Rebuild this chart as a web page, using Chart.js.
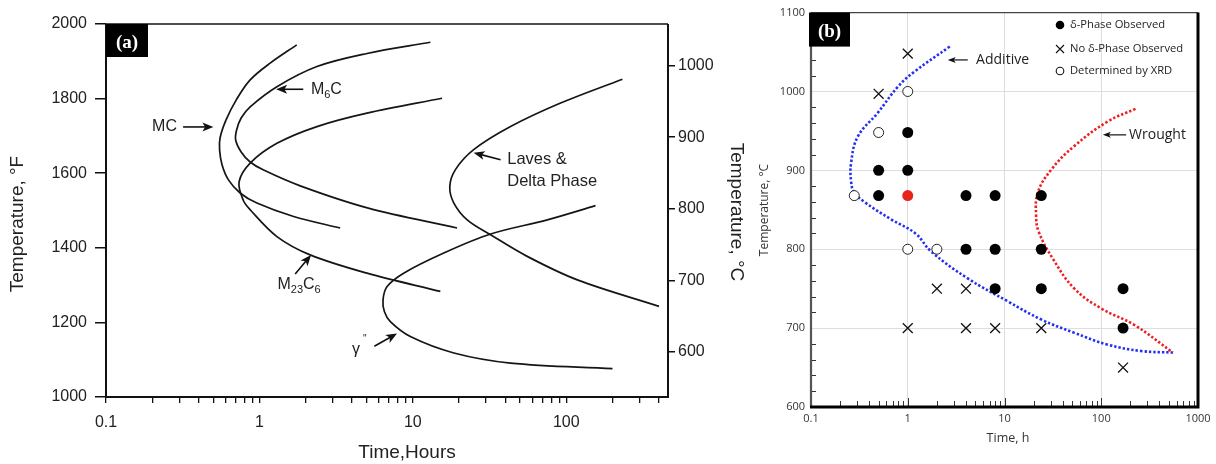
<!DOCTYPE html>
<html><head><meta charset="utf-8">
<script src="https://cdn.jsdelivr.net/npm/chart.js@4.4.1/dist/chart.umd.min.js"></script>
<style>
html,body{margin:0;padding:0;background:#fff;width:1216px;height:464px;overflow:hidden}
canvas{position:absolute;top:0}
#ca{left:0}
#cb{left:740px}
</style></head><body>
<canvas id="ca" width="745" height="464"></canvas>
<canvas id="cb" width="476" height="464"></canvas>
<script>
// ---------------- Panel (a): time (h) vs temperature (°F) ----------------
const mcTime    = [1.75, 1.174, 0.870, 0.705, 0.606, 0.554, 0.550, 0.571, 0.628, 0.748, 0.962, 1.67, 3.36];
const mcTemp    = [1944, 1895, 1850, 1796, 1743, 1695, 1662, 1622, 1582, 1547, 1520, 1484, 1453];
const m6cTime   = [13.0, 5.02, 2.37, 1.30, 0.87, 0.76, 0.71, 0.70, 0.76, 0.87, 1.057, 1.844, 5.05, 19.4];
const m6cTemp   = [1951, 1921, 1886, 1832, 1778, 1748, 1716, 1689, 1657, 1630, 1609, 1566, 1507, 1453];
const m23Time   = [15.5, 5.02, 2.37, 1.30, 0.87, 0.737, 0.783, 0.87, 1.30, 2.14, 5.02, 15.1];
const m23Temp   = [1801, 1761, 1725, 1680, 1627, 1577, 1528, 1502, 1430, 1381, 1332, 1283];
const lavesTime = [232, 91.8, 43.3, 24.9, 18.9, 17.4, 18.5, 22.6, 32.1, 55.6, 118, 402];
const lavesTemp = [1852, 1788, 1725, 1663, 1609, 1564, 1520, 1475, 1435, 1377, 1314, 1243];
const gammaTime = [155, 75.2, 32.1, 15.9, 8.71, 6.79, 6.39, 6.52, 7.13, 9.63, 18.5, 43.3, 200];
const gammaTemp = [1513, 1475, 1437, 1386, 1332, 1296, 1261, 1229, 1202, 1162, 1118, 1091, 1076];

const timeTicksA  = [0.1,0.2,0.3,0.4,0.5,0.6,0.7,0.8,0.9,1,2,3,4,5,6,7,8,9,10,20,30,40,50,60,70,80,90,100,200,300,400];
const timeLabelsA = [0.1, 1, 10, 100];
const tempFTicks  = [1000, 1200, 1400, 1600, 1800, 2000];
const tempCTicksA = [600, 700, 800, 900, 1000];

// ---------------- Panel (b): time (h) vs temperature (°C) ----------------
const deltaTime   = [1, 0.5, 1, 0.5, 4, 8, 24, 4, 8, 24, 8, 24, 168, 168];
const deltaTemp   = [948, 900, 900, 868, 868, 868, 868, 800, 800, 800, 750, 750, 750, 700];
const redTime     = [1];
const redTemp     = [868];
const xrdTime     = [1, 0.5, 0.28, 1, 2];
const xrdTemp     = [1000, 948, 868, 800, 800];
const noDeltaTime = [1, 0.5, 2, 4, 1, 4, 8, 24, 168];
const noDeltaTemp = [1048, 997, 750, 750, 700, 700, 700, 700, 650];
const addTime     = [2.72, 1.17, 0.79, 0.49, 0.305, 0.26, 0.26, 0.28, 0.356, 0.67, 1.2, 1.75, 4.17, 10.8, 23.9, 52.8, 117, 258, 550];
const addTemp     = [1057, 1025, 1006, 973, 943, 910, 885, 872, 860, 838, 820, 797, 763, 734, 711, 694, 679, 671, 669];
const wroTime     = [226, 117, 52.8, 30.5, 22.1, 21.2, 22.6, 31.6, 52.8, 99.6, 220, 550];
const wroTemp     = [978, 962, 931, 901, 872, 843, 822, 788, 750, 725, 704, 669];

const timeTicksB  = [0.1,0.2,0.3,0.4,0.5,0.6,0.7,0.8,0.9,1,2,3,4,5,6,7,8,9,10,20,30,40,50,60,70,80,90,100,200,300,400,500,600,700,800,900,1000];
const timeLabelsB = [0.1, 1, 10, 100, 1000];
const tempCTicksB = [600, 700, 800, 900, 1000, 1100];
const tempCMinorB = [620, 640, 660, 680, 720, 740, 760, 780, 820, 840, 860, 880, 920, 940, 960, 980, 1020, 1040, 1060, 1080];

const pts = (xs, ys) => xs.map((x, i) => ({x: x, y: ys[i]}));
const FA = '"Liberation Sans", Arial, Helvetica, sans-serif';
const FB = '"Open Sans", "Noto Sans", sans-serif';

function arrow(ctx, x1, y1, x2, y2, len, wid, lw) {
  const a = Math.atan2(y2 - y1, x2 - x1);
  ctx.save();
  ctx.strokeStyle = '#111'; ctx.fillStyle = '#111'; ctx.lineWidth = lw;
  ctx.beginPath(); ctx.moveTo(x1, y1);
  ctx.lineTo(x2 - Math.cos(a) * len * 0.6, y2 - Math.sin(a) * len * 0.6); ctx.stroke();
  ctx.translate(x2, y2); ctx.rotate(a);
  ctx.beginPath(); ctx.moveTo(0, 0); ctx.lineTo(-len, -wid / 2); ctx.lineTo(-len * 0.75, 0); ctx.lineTo(-len, wid / 2); ctx.closePath(); ctx.fill();
  ctx.restore();
}
function subText(ctx, parts, x, y, big, small) {
  let cx = x;
  for (const [t, sub] of parts) {
    ctx.font = (sub ? small : big) + 'px ' + FA;
    ctx.fillText(t, cx, y + (sub ? big * 0.33 : 0));
    cx += ctx.measureText(t).width;
  }
}

// ---------------- Chart A ----------------
const curveDs = (xs, ys) => ({data: pts(xs, ys), showLine: true, borderColor: '#151515', borderWidth: 1.7,
  pointRadius: 0, tension: 0.35, fill: false, yAxisID: 'y'});

const plugA = {
  id: 'plugA',
  afterDraw(chart) {
    const ctx = chart.ctx, ca = chart.chartArea, sx = chart.scales.x, sy = chart.scales.y;
    const px = v => sx.getPixelForValue(v), py = v => sy.getPixelForValue(v);
    ctx.save();
    ctx.strokeStyle = '#111'; ctx.lineWidth = 1.5;
    ctx.beginPath(); ctx.moveTo(ca.left, ca.top); ctx.lineTo(ca.right, ca.top); ctx.stroke();
    ctx.lineWidth = 2;
    ctx.beginPath(); ctx.moveTo(ca.left, ca.top); ctx.lineTo(ca.left, ca.bottom); ctx.lineTo(ca.right, ca.bottom); ctx.lineTo(ca.right, ca.top); ctx.stroke();
    ctx.fillStyle = '#000'; ctx.fillRect(ca.left, ca.top, 42, 33);
    ctx.fillStyle = '#fff'; ctx.font = 'bold 19px "Liberation Serif", "DejaVu Serif", serif';
    ctx.textAlign = 'center'; ctx.textBaseline = 'middle';
    ctx.fillText('(a)', ca.left + 21, ca.top + 19);
    ctx.fillStyle = '#222'; ctx.font = '19px ' + FA;
    ctx.save(); ctx.translate(17.5, 224); ctx.rotate(-Math.PI / 2); ctx.fillText('Temperature, °F', 0, 0); ctx.restore();
    ctx.save(); ctx.translate(736, 212); ctx.rotate(Math.PI / 2); ctx.fillText('Temperature, °C', 0, 0); ctx.restore();
    ctx.fillText('Time,Hours', 407, 453);
    ctx.fillStyle = '#222'; ctx.textBaseline = 'middle';
    ctx.font = '16px ' + FA; ctx.textAlign = 'right';
    ctx.fillText('MC', px(0.29), py(1724));
    arrow(ctx, px(0.318), py(1724), px(0.501), py(1724), 11, 9, 1.6);
    ctx.textAlign = 'left';
    arrow(ctx, px(1.93), py(1825), px(1.285), py(1825), 11, 9, 1.6);
    subText(ctx, [['M', false], ['6', true], ['C', false]], px(2.165), py(1825), 16, 11);
    arrow(ctx, px(1.71), py(1330), px(2.17), py(1381), 11, 9, 1.6);
    subText(ctx, [['M', false], ['23', true], ['C', false], ['6', true]], px(1.31), py(1301), 16, 11);
    arrow(ctx, px(5.61), py(1136), px(7.88), py(1170), 11, 9, 1.6);
    ctx.font = '16px ' + FA; ctx.fillText('γ', px(4.01), py(1127));
    ctx.font = '10px ' + FA; ctx.fillText('"', px(4.01) + 11, py(1127) - 10);
    arrow(ctx, px(37.3), py(1636), px(24.9), py(1655), 11, 9, 1.6);
    ctx.font = '16.5px ' + FA;
    ctx.fillText('Laves &', px(41.2), py(1636));
    ctx.fillText('Delta Phase', px(41.2), py(1578));
    ctx.restore();
  }
};

new Chart(document.getElementById('ca'), {
  type: 'scatter',
  data: { datasets: [
    curveDs(mcTime, mcTemp), curveDs(m6cTime, m6cTemp), curveDs(m23Time, m23Temp),
    curveDs(lavesTime, lavesTemp), curveDs(gammaTime, gammaTemp)
  ]},
  options: {
    responsive: false, animation: false, events: [],
    layout: { padding: { top: 24, left: 0, right: 0, bottom: 0 } },
    plugins: { legend: { display: false }, tooltip: { enabled: false } },
    scales: {
      x: {
        type: 'logarithmic', position: 'bottom', min: 0.1, max: 460,
        afterBuildTicks: s => { s.ticks = timeTicksA.map(v => ({value: v})); },
        afterFit: s => { s.height = 67; },
        ticks: { autoSkip: false, maxRotation: 0, padding: 10, color: '#222', font: { family: FA, size: 16 },
          callback: v => timeLabelsA.includes(v) ? String(v) : '' },
        grid: { drawOnChartArea: false, tickLength: 6, color: '#111', lineWidth: 1.3 },
        border: { display: false }
      },
      y: {
        type: 'linear', position: 'left', min: 1000, max: 2000,
        afterBuildTicks: s => { s.ticks = tempFTicks.map(v => ({value: v})); },
        afterFit: s => { s.width = 106; },
        ticks: { padding: 8, color: '#222', font: { family: FA, size: 16 }, callback: v => String(v) },
        grid: { drawOnChartArea: false, tickLength: 11, color: '#111', lineWidth: 1.5 },
        border: { display: false }
      },
      y2: {
        type: 'linear', position: 'right', min: 537, max: 1058,
        afterBuildTicks: s => { s.ticks = tempCTicksA.map(v => ({value: v})); },
        afterFit: s => { s.width = 77; },
        ticks: { padding: 3, color: '#222', font: { family: FA, size: 16 }, callback: v => String(v) },
        grid: { drawOnChartArea: false, tickLength: 7, color: '#111', lineWidth: 1.5 },
        border: { display: false }
      }
    }
  },
  plugins: [plugA]
});

// ---------------- Chart B ----------------
const plugB = {
  id: 'plugB',
  afterDraw(chart) {
    const ctx = chart.ctx, ca = chart.chartArea, sx = chart.scales.x, sy = chart.scales.y;
    const px = v => sx.getPixelForValue(v), py = v => sy.getPixelForValue(v);
    ctx.save();
    ctx.strokeStyle = '#333'; ctx.lineWidth = 1;
    for (const v of timeTicksB) {
      const L = timeLabelsB.includes(v) ? 9 : 6, x = Math.round(px(v)) + 0.5;
      ctx.beginPath(); ctx.moveTo(x, ca.bottom); ctx.lineTo(x, ca.bottom - L); ctx.stroke();
    }
    for (const v of tempCMinorB) {
      const y = Math.round(py(v)) + 0.5;
      ctx.beginPath(); ctx.moveTo(ca.left, y); ctx.lineTo(ca.left + 5, y); ctx.stroke();
    }
    ctx.strokeStyle = '#444'; ctx.lineWidth = 1.3;
    ctx.beginPath(); ctx.moveTo(ca.left, ca.top); ctx.lineTo(ca.right, ca.top); ctx.stroke();
    ctx.strokeStyle = '#555'; ctx.lineWidth = 2.2;
    ctx.beginPath(); ctx.moveTo(ca.left, ca.top); ctx.lineTo(ca.left, ca.bottom); ctx.stroke();
    ctx.strokeStyle = '#000'; ctx.lineWidth = 3;
    ctx.beginPath(); ctx.moveTo(ca.left - 1, ca.bottom); ctx.lineTo(ca.right, ca.bottom); ctx.lineTo(ca.right, ca.top); ctx.stroke();
    ctx.fillStyle = '#000'; ctx.fillRect(ca.left - 2, ca.top, 41, 34);
    ctx.fillStyle = '#fff'; ctx.font = 'bold 19px "Liberation Serif", "DejaVu Serif", serif';
    ctx.textAlign = 'center'; ctx.textBaseline = 'middle';
    ctx.fillText('(b)', ca.left + 18.5, ca.top + 19);
    ctx.fillStyle = '#333'; ctx.font = '12.5px ' + FB;
    ctx.fillText('Time, h', 268, 438);
    ctx.save(); ctx.translate(25, 210); ctx.rotate(-Math.PI / 2); ctx.font = '12px ' + FB; ctx.fillText('Temperature, °C', 0, 0); ctx.restore();
    const lx = 320;
    ctx.fillStyle = '#000';
    ctx.beginPath(); ctx.arc(lx, 25, 4.3, 0, Math.PI * 2); ctx.fill();
    ctx.strokeStyle = '#111'; ctx.lineWidth = 1.1;
    ctx.beginPath(); ctx.moveTo(lx - 4, 45); ctx.lineTo(lx + 4, 53); ctx.moveTo(lx + 4, 45); ctx.lineTo(lx - 4, 53); ctx.stroke();
    ctx.beginPath(); ctx.arc(lx, 71, 3.8, 0, Math.PI * 2); ctx.stroke();
    ctx.fillStyle = '#222'; ctx.textAlign = 'left'; ctx.font = '11.2px ' + FB;
    ctx.fillText('δ-Phase Observed', lx + 10, 25);
    ctx.fillText('No δ-Phase Observed', lx + 10, 49);
    ctx.fillText('Determined by XRD', lx + 10, 71);
    ctx.font = '14px ' + FB;
    arrow(ctx, px(4.17), py(1040), px(2.59), py(1040), 8, 6, 1.2);
    ctx.fillText('Additive', px(5.09), py(1040));
    arrow(ctx, px(181), py(945), px(103.9), py(945), 8, 6, 1.2);
    ctx.fillText('Wrought', px(194), py(945));
    ctx.restore();
  }
};
const curveB = (xs, ys, col) => ({data: pts(xs, ys), showLine: true, borderColor: col, borderWidth: 2.6,
  borderDash: [2.4, 2], pointRadius: 0, tension: 0.4, fill: false, order: 10});
const markB = (xs, ys, o) => Object.assign({data: pts(xs, ys), showLine: false, order: 0}, o);

new Chart(document.getElementById('cb'), {
  type: 'scatter',
  data: { datasets: [
    curveB(addTime, addTemp, '#2430f0'),
    curveB(wroTime, wroTemp, '#f01e1e'),
    markB(deltaTime, deltaTemp, { pointStyle: 'circle', pointRadius: 5.5, backgroundColor: '#000', borderWidth: 0 }),
    markB(redTime, redTemp, { pointStyle: 'circle', pointRadius: 5.5, backgroundColor: '#e8231c', borderWidth: 0 }),
    markB(xrdTime, xrdTemp, { pointStyle: 'circle', pointRadius: 5, backgroundColor: '#fff', borderColor: '#222', borderWidth: 1 }),
    markB(noDeltaTime, noDeltaTemp, { pointStyle: 'crossRot', pointRadius: 7, borderColor: '#111', borderWidth: 1.3 })
  ]},
  options: {
    responsive: false, animation: false, events: [],
    layout: { padding: { top: 9, left: 0, right: 18, bottom: 0 } },
    plugins: { legend: { display: false }, tooltip: { enabled: false } },
    scales: {
      x: {
        type: 'logarithmic', position: 'bottom', min: 0.1, max: 1000,
        afterBuildTicks: s => { s.ticks = timeTicksB.map(v => ({value: v})); },
        afterFit: s => { s.height = 57; },
        ticks: { autoSkip: false, maxRotation: 0, padding: 5, color: '#333', font: { family: FB, size: 11 },
          callback: v => timeLabelsB.includes(v) ? String(v) : '' },
        grid: { drawTicks: false, lineWidth: 1,
          color: c => (c.tick && [1, 10, 100].includes(c.tick.value)) ? '#dedede' : 'rgba(0,0,0,0)' },
        border: { display: false }
      },
      y: {
        type: 'linear', position: 'left', min: 600, max: 1100,
        afterBuildTicks: s => { s.ticks = tempCTicksB.map(v => ({value: v})); },
        afterFit: s => { s.width = 71; },
        ticks: { padding: 6, color: '#333', font: { family: FB, size: 11 }, callback: v => String(v) },
        grid: { drawTicks: false, lineWidth: 1,
          color: c => (c.tick && [700, 800, 900, 1000].includes(c.tick.value)) ? '#dedede' : 'rgba(0,0,0,0)' },
        border: { display: false }
      }
    }
  },
  plugins: [plugB]
});
</script>
</body></html>
